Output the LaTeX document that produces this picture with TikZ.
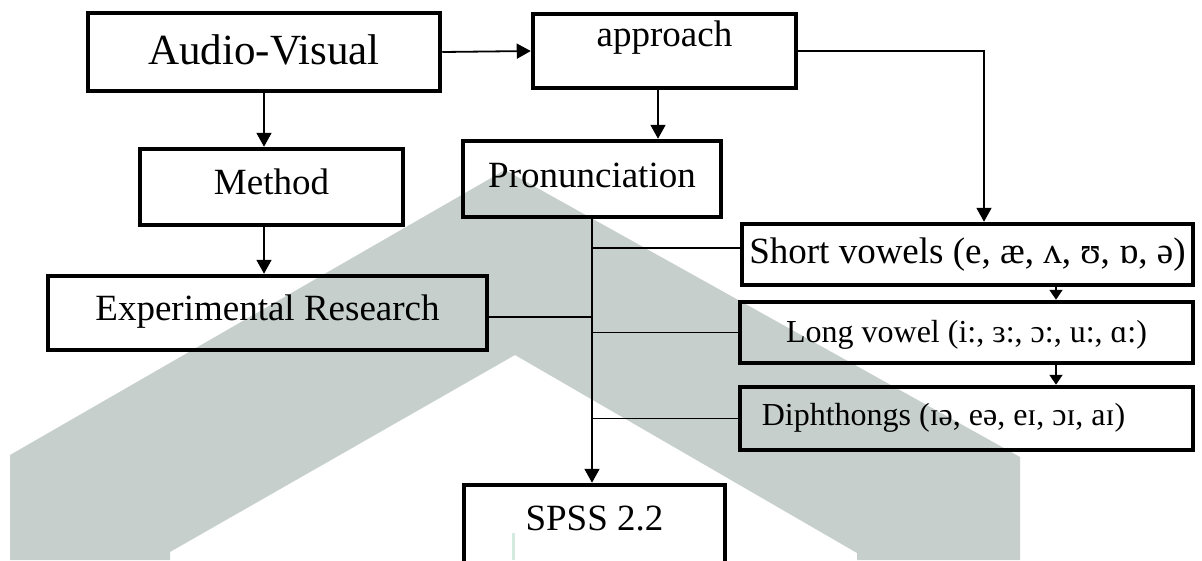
\documentclass[tikz,border=0pt]{standalone}
\usepackage{fontspec}
\setmainfont{Liberation Serif}
\usetikzlibrary{arrows.meta}
\definecolor{wmgrey}{RGB}{198,207,204}
\definecolor{wmgreen}{RGB}{212,234,222}
\newcommand{\bltext}[2]{\raisebox{#1}[0pt][0pt]{#2}}
\tikzset{
  box/.style={draw=black, line width=4.5pt, inner sep=0pt, align=center},
  conn/.style={draw=black, line width=1.8pt},
  arr/.style={conn, -{Triangle[length=14pt,width=15pt]}},
  arrs/.style={conn, -{Triangle[length=10pt,width=13pt]}},
}
\begin{document}
\begin{tikzpicture}[x=1pt,y=-1pt]
\useasboundingbox (0,0) rectangle (1202,560);
% watermark
\fill[wmgrey] (10,455) -- (505,170) -- (1020,457) -- (1020,560) -- (857,560) -- (857,553)
  -- (515,355) -- (170,552) -- (170,560) -- (10,560) -- cycle;
\fill[wmgreen] (512,533) rectangle (515,560);
% boxes
\node[box, minimum width=352pt, minimum height=78pt, font=\fontsize{43}{50}\selectfont] (av) at (264,52) {\bltext{-12pt}{Audio-Visual}};
\node[box, minimum width=263pt, minimum height=74pt, font=\fontsize{37}{42}\selectfont] (appr) at (664.5,51) {\bltext{5pt}{approach}};
\node[box, minimum width=263pt, minimum height=76pt, font=\fontsize{37}{42}\selectfont] (meth) at (271.5,187) {\bltext{-7pt}{Method}};
\node[box, minimum width=258pt, minimum height=76pt, font=\fontsize{37}{42}\selectfont] (pron) at (592,179) {\bltext{-8pt}{Pronunciation}};
\node[box, minimum width=439pt, minimum height=74pt, font=\fontsize{37}{42}\selectfont] (er) at (267.5,313) {\bltext{-7.5pt}{Experimental Research}};
\node[box, minimum width=451pt, minimum height=61pt, font=\fontsize{37}{42}\selectfont] (short) at (967.5,254.5) {\bltext{-8.5pt}{Short vowels (e, æ, ʌ, ʊ, ɒ, ə)}};
\node[box, minimum width=453pt, minimum height=61pt, font=\fontsize{32}{36}\selectfont] (long) at (966.5,332.5) {\bltext{-10pt}{Long vowel (i:, ɜ:, ɔ:, u:, ɑ:)}};
\node[box, minimum width=453pt, minimum height=63pt, font=\fontsize{32}{36}\selectfont] (diph) at (966.5,418.5) {\hspace*{-46pt}\bltext{-7pt}{Diphthongs (ɪə, eə, eɪ, ɔɪ, aɪ)}};
\node[box, minimum width=261pt, minimum height=115pt, font=\fontsize{37}{42}\selectfont] (spss) at (594.5,542.5) {\bltext{12.5pt}{SPSS 2.2}};
% helper coordinates
\coordinate (cx) at (1056,0);
\coordinate (jS) at (592,248);
\coordinate (cm) at (264,0);
\coordinate (ca) at (658,0);
\coordinate (cs) at (984,0);
% connectors
\draw[arr] (av.east) -- (appr.west);
\draw[arr] (av.south) -- (av.south |- meth.north);
\draw[arr] (meth.south -| cm) -- (er.north -| cm);
\draw[arr] (appr.south -| ca) -- (pron.north -| ca);
\draw[arr] (appr.east) -| (short.north -| cs);
\draw[arr] (pron.south) -- (pron.south |- spss.north);
\draw[conn] ([yshift=-4pt]er.east) -- ([yshift=-4pt]er.east -| pron.south);
\draw[conn] (jS) -- (jS -| short.west);
\draw[conn] (long.west -| pron.south) -- (long.west);
\draw[conn] (diph.west -| pron.south) -- (diph.west);
\draw[arrs] (short.south -| cx) -- (long.north -| cx);
\draw[arrs] (long.south -| cx) -- (diph.north -| cx);
\end{tikzpicture}
\end{document}
